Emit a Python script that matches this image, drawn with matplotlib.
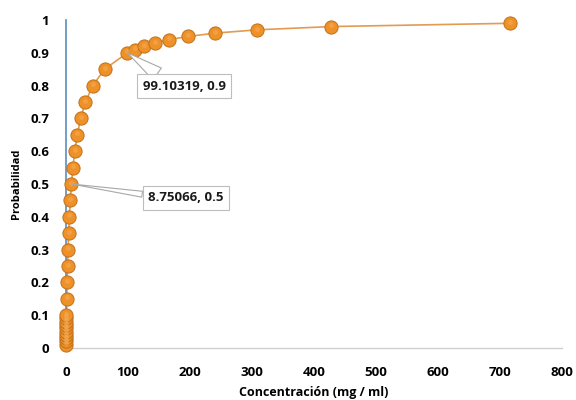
import matplotlib
matplotlib.use("Agg")
import matplotlib.pyplot as plt

# Cumulative probability vs. concentration (mg / ml)
probabilidad = [0.01, 0.02, 0.03, 0.04, 0.05, 0.06, 0.07, 0.08, 0.09, 0.10,
                0.15, 0.20, 0.25, 0.30, 0.35, 0.40, 0.45, 0.50, 0.55, 0.60,
                0.65, 0.70, 0.75, 0.80, 0.85, 0.90,
                0.91, 0.92, 0.93, 0.94, 0.95, 0.96, 0.97, 0.98, 0.99]
concentracion = [0.107, 0.179, 0.248, 0.318, 0.388, 0.460, 0.534, 0.611, 0.690, 0.772,
                 1.23, 1.78, 2.44, 3.24, 4.22, 5.41, 6.90, 8.75066, 11.10, 14.14,
                 18.16, 23.6, 31.4, 43.1, 62.2, 99.10319,
                 110.8, 125.2, 143.3, 166.4, 197.3, 241.0, 308.0, 428.0, 717.0]

etiquetas = [(99.10319, 0.9), (8.75066, 0.5)]

x_ticks = [0, 100, 200, 300, 400, 500, 600, 700, 800]
y_ticks = [0, 0.1, 0.2, 0.3, 0.4, 0.5, 0.6, 0.7, 0.8, 0.9, 1]
y_tick_labels = ["0", "0.1", "0.2", "0.3", "0.4", "0.5", "0.6", "0.7", "0.8", "0.9", "1"]

plt.rcParams['font.family'] = ['Open Sans', 'DejaVu Sans']
plt.rcParams['font.weight'] = 'bold'

fig = plt.figure(figsize=(5.76, 4.0), dpi=100)
ax = fig.add_axes([0.1146, 0.13, 0.861, 0.82])

ax.plot(concentracion, probabilidad, color='#E39A52', lw=1.2, zorder=2)
ax.plot(concentracion, probabilidad, linestyle='none', marker='o', ms=9.5,
        markerfacecolor='#EE9128', markeredgecolor='#C0701A', markeredgewidth=0.7,
        zorder=3, clip_on=False)
# soft highlight on the upper part of each marker
ax.plot(concentracion, [p + 0.004 for p in probabilidad], linestyle='none',
        marker='o', ms=3.5, markerfacecolor='#F6AE5A', markeredgecolor='none',
        alpha=0.55, zorder=4, clip_on=False)

# label placement: (offset in points, anchor of the callout base on the box, base width)
placement = {0.9: ((11, -24), (0.27, 1.0), 1.1), 0.5: ((55, -10), (0.0, 0.72), 0.45)}
for xv, yv in etiquetas:
    offset, rel, tail = placement[yv]
    ax.annotate(f"{xv}, {yv}", xy=(xv, yv), xytext=offset,
                textcoords='offset points', fontsize=9.5, fontweight='bold',
                color='#1a1a1a', ha='left', va='center',
                bbox=dict(boxstyle='square,pad=0.4', fc='white', ec='#BDBDBD', lw=0.8),
                arrowprops=dict(arrowstyle=f'wedge,tail_width={tail},shrink_factor=0.5',
                                fc='white', ec='#A8A8A8', lw=0.8, relpos=rel,
                                shrinkA=0, shrinkB=0),
                zorder=5)

ax.set_xlim(0, 800)
ax.set_ylim(0, 1)
ax.set_xticks(x_ticks)
ax.set_yticks(y_ticks)
ax.set_yticklabels(y_tick_labels)
ax.tick_params(length=0, labelsize=9.5)
ax.tick_params(axis='y', pad=12)
ax.tick_params(axis='x', pad=13)
for lbl in ax.get_xticklabels() + ax.get_yticklabels():
    lbl.set_fontweight('bold')

for side in ('top', 'right'):
    ax.spines[side].set_visible(False)
ax.spines['left'].set_color('#5B8DBE')
ax.spines['left'].set_linewidth(1.2)
ax.spines['bottom'].set_color('#D0D0D0')
ax.spines['bottom'].set_linewidth(1.0)

ax.set_xlabel("Concentración (mg / ml)", fontsize=9, fontweight='bold', labelpad=5)
ax.set_ylabel("Probabilidad", fontsize=8, fontweight='bold', labelpad=6)

fig.savefig("out.png", dpi=100, facecolor='white')
